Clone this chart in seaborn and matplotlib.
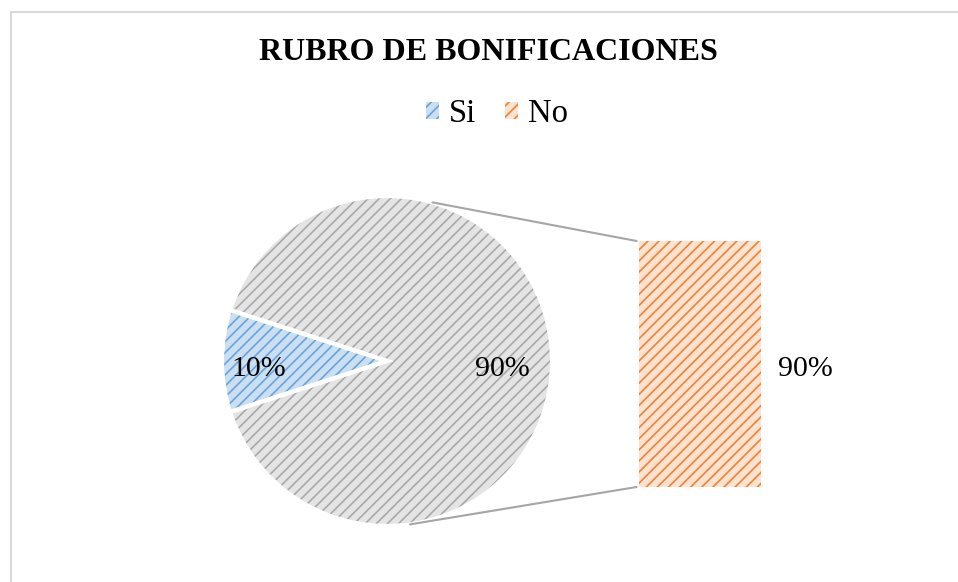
import numpy as np
import matplotlib
matplotlib.use("Agg")
import matplotlib.pyplot as plt
import matplotlib.patches as mpatches
from matplotlib.patches import ConnectionPatch
from matplotlib.lines import Line2D
import seaborn as sns

# data
pie_names = ['Si', 'Otro']
pie_values = [10, 90]
bar_names = ['No']
bar_values = [90]
title_txt = 'RUBRO DE BONIFICACIONES'

sns.set_style('white')
plt.rcParams['font.family'] = ['Liberation Serif', 'DejaVu Serif']
plt.rcParams['text.color'] = 'black'
plt.rcParams['hatch.linewidth'] = 1.2

blue_face, blue_hatch = '#cadff2', '#6aa3dc'
gray_face, gray_hatch = '#e4e4e4', '#a9a9a9'
orange_face, orange_hatch = '#fce2cf', '#ef8237'
label_fs = 21.5

W, H = 958, 582
fig = plt.figure(figsize=(W / 100, H / 100), dpi=100)

# pie axes: centre (387, 361) px, radius 165 px
cx, cy, r = 387, 361, 165
pad = 1.03
axp = fig.add_axes([(cx - r * pad) / W, (H - cy - r * pad) / H, 2 * r * pad / W, 2 * r * pad / H])
start = 180 - pie_values[0] / sum(pie_values) * 360 / 2
axp.pie(pie_values, startangle=start, colors=[blue_face, gray_face],
        wedgeprops=dict(linewidth=0), radius=1)
for w, hc in zip(axp.patches, [blue_hatch, gray_hatch]):
    w.set_hatch('///')
    w.set_edgecolor(hc)
axp.pie(pie_values, startangle=start, colors=['none', 'none'],
        wedgeprops=dict(linewidth=3, edgecolor='white'), radius=1)
axp.set_xlim(-pad, pad)
axp.set_ylim(-pad, pad)
axp.set_aspect('equal')
axp.axis('off')

# percentage labels inside the pie
total = sum(pie_values)
angles = np.cumsum([0] + pie_values[:-1]) / total * 360 + start + np.array(pie_values) / total * 360 / 2
dists = [0.78, 0.70]
for ang, d, v in zip(angles, dists, pie_values):
    axp.text(d * np.cos(np.radians(ang)), d * np.sin(np.radians(ang)) - 0.05,
             f'{v}%', ha='center', va='center', fontsize=label_fs, color='black')

# bar of the split-off category
bx0, bx1, by0, by1 = 639, 761, 241, 487
axb = fig.add_axes([bx0 / W, (H - by1) / H, (bx1 - bx0) / W, (by1 - by0) / H])
sns.barplot(x=bar_names, y=bar_values, ax=axb, width=1, color=orange_face,
            saturation=1, hatch='///', edgecolor=orange_hatch, linewidth=0)
axb.set_xlim(-0.5, 0.5)
axb.set_ylim(0, bar_values[0])
axb.axis('off')
axb.annotate(f'{bar_values[0]}%', xy=(0.5, bar_values[0] / 2), xytext=(17, -5),
             textcoords='offset pixels', ha='left', va='center', fontsize=label_fs, color='black')

# connector lines
for ang, yb in [(74, bar_values[0]), (-82, 0)]:
    con = ConnectionPatch(xyA=(np.cos(np.radians(ang)), np.sin(np.radians(ang))), coordsA=axp.transData,
                          xyB=(-0.52, yb), coordsB=axb.transData, color='#a6a6a6', linewidth=1.5)
    fig.add_artist(con)

# title and legend
fig.text(488 / W, 1 - 52 / H, title_txt, ha='center', va='center',
         fontsize=23, fontweight='bold', color='black')
handles = [mpatches.Patch(facecolor=blue_face, edgecolor=blue_hatch, hatch='///', linewidth=0),
           mpatches.Patch(facecolor=orange_face, edgecolor=orange_hatch, hatch='///', linewidth=0)]
fig.legend(handles, ['Si', 'No'], loc='center', bbox_to_anchor=(497 / W, 1 - 114 / H), ncol=2,
           frameon=False, fontsize=23.5, handlelength=0.4, handleheight=0.4,
           handletextpad=0.3, columnspacing=0.9, labelcolor='black')

# chart-area border (top and left visible in the crop)
fig.add_artist(Line2D([11 / W, 1], [1 - 12 / H, 1 - 12 / H], color='#d9d9d9', linewidth=1.5))
fig.add_artist(Line2D([11 / W, 11 / W], [0, 1 - 12 / H], color='#d9d9d9', linewidth=1.5))

fig.savefig('out.png', dpi=100)
